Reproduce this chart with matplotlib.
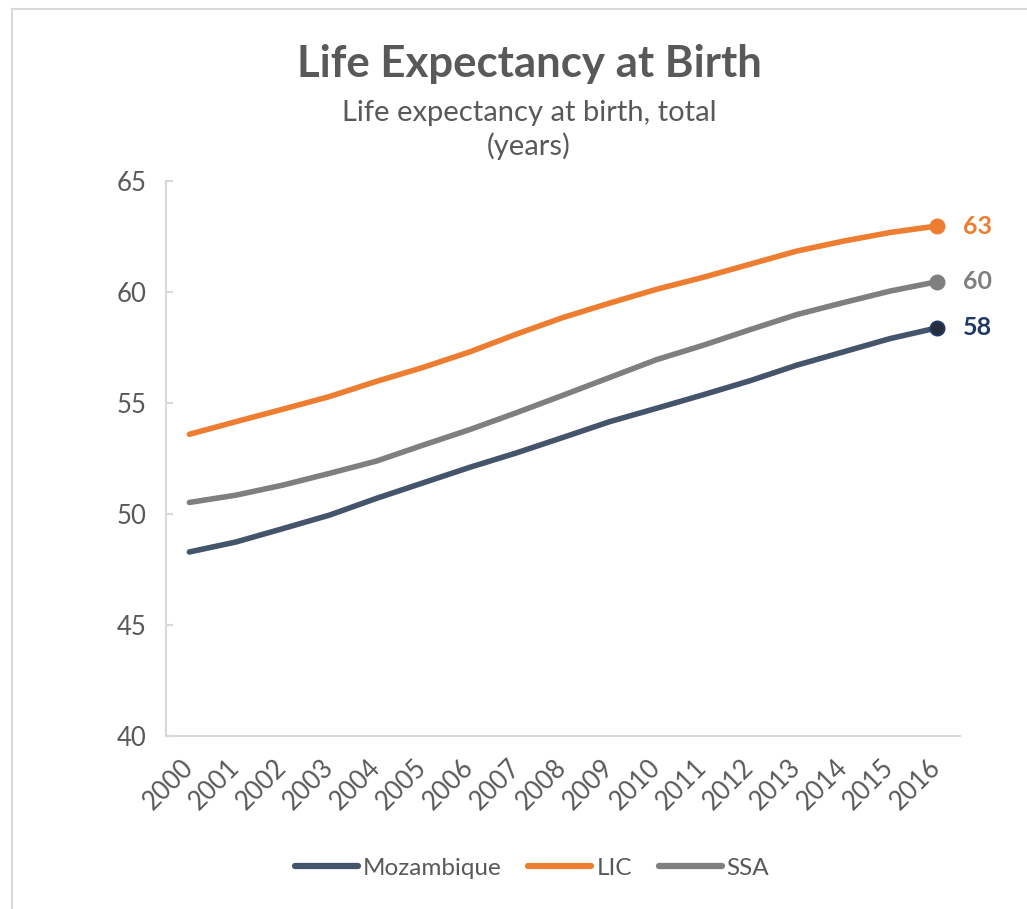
import matplotlib
matplotlib.use("Agg")
import matplotlib.pyplot as plt
from matplotlib.patches import Rectangle

years = [str(y) for y in range(2000, 2017)]
mozambique = [48.29, 48.74, 49.34, 49.95, 50.70, 51.40, 52.10, 52.75, 53.45, 54.16,
              54.76, 55.37, 56.00, 56.70, 57.30, 57.90, 58.38]
lic = [53.59, 54.16, 54.72, 55.29, 55.97, 56.60, 57.30, 58.10, 58.85, 59.50,
       60.12, 60.66, 61.25, 61.84, 62.29, 62.68, 62.97]
ssa = [50.52, 50.85, 51.30, 51.83, 52.38, 53.10, 53.80, 54.56, 55.35, 56.15,
       56.95, 57.60, 58.30, 58.98, 59.52, 60.04, 60.46]
series_names = ["Mozambique", "LIC", "SSA"]
yticks = [40, 45, 50, 55, 60, 65]

plt.rcParams['font.family'] = ['Lato', 'DejaVu Sans']

fig = plt.figure(figsize=(10.27, 9.09), dpi=100)
ax = fig.add_axes([166/1027, 1-736/909, (960-166)/1027, (736-181)/909])

x = list(range(len(years)))
colors = ["#44546a", "#ed7d31", "#7f7f7f"]
marker_face = ["#262c3a", "#ed7d31", "#7f7f7f"]
marker_edge = ["#1f3864", "#ed7d31", "#7f7f7f"]
label_colors = ["#1f3864", "#ed7d31", "#7f7f7f"]
data = [mozambique, lic, ssa]

for vals, name, c in zip(data, series_names, colors):
    ax.plot(x, vals, color=c, lw=4.0, solid_capstyle='round', label=name, zorder=3)

for vals, mf, me, lc in zip(data, marker_face, marker_edge, label_colors):
    ax.plot([x[-1]], [vals[-1]], 'o', ms=10, mfc=mf, mec=me, mew=1.5, zorder=4)
    ax.annotate(f"{round(vals[-1]):d}", (x[-1], vals[-1]), xytext=(19, 0),
                textcoords='offset points', va='center', ha='left',
                fontsize=18, fontweight='bold', color=lc)

ax.set_xlim(-0.5, len(years) - 0.5)
ax.set_ylim(40, 65)
ax.set_yticks(yticks)
ax.set_xticks(x)
ax.set_xticklabels(years, rotation=45, ha='right', va='center', rotation_mode='anchor')
for s in ['top', 'right']:
    ax.spines[s].set_visible(False)
for s in ['left', 'bottom']:
    ax.spines[s].set_color('#d9d9d9')
    ax.spines[s].set_linewidth(1.5)
ax.tick_params(axis='y', direction='in', length=5, width=1.5, color='#d9d9d9',
               labelsize=18.5, labelcolor='#595959', pad=14)
ax.tick_params(axis='x', length=0, labelsize=18.5, labelcolor='#595959', pad=20)

fig.text(529/1027, 1-77/909, "Life Expectancy at Birth", ha='center', va='baseline',
         fontsize=31.5, fontweight='bold', color='#595959')
fig.text(529/1027, 1-121/909, "Life expectancy at birth, total", ha='center', va='baseline',
         fontsize=21, color='#595959')
fig.text(529/1027, 1-155/909, "(years)", ha='center', va='baseline',
         fontsize=21, color='#595959')

leg = fig.legend(loc='center', bbox_to_anchor=(532/1027, 1-868/909), ncol=3,
                 frameon=False, fontsize=17.5, handlelength=2.6, handletextpad=0.2,
                 columnspacing=1.1)
for t in leg.get_texts():
    t.set_color('#595959')
for h in leg.get_lines():
    h.set_linewidth(4.5)

fig.patches.append(Rectangle((12/1027, -0.05), 1.1, 1-9/909+0.05, transform=fig.transFigure,
                             fill=False, edgecolor='#d9d9d9', lw=1.5))

fig.savefig("out.png", dpi=100, facecolor='white')
